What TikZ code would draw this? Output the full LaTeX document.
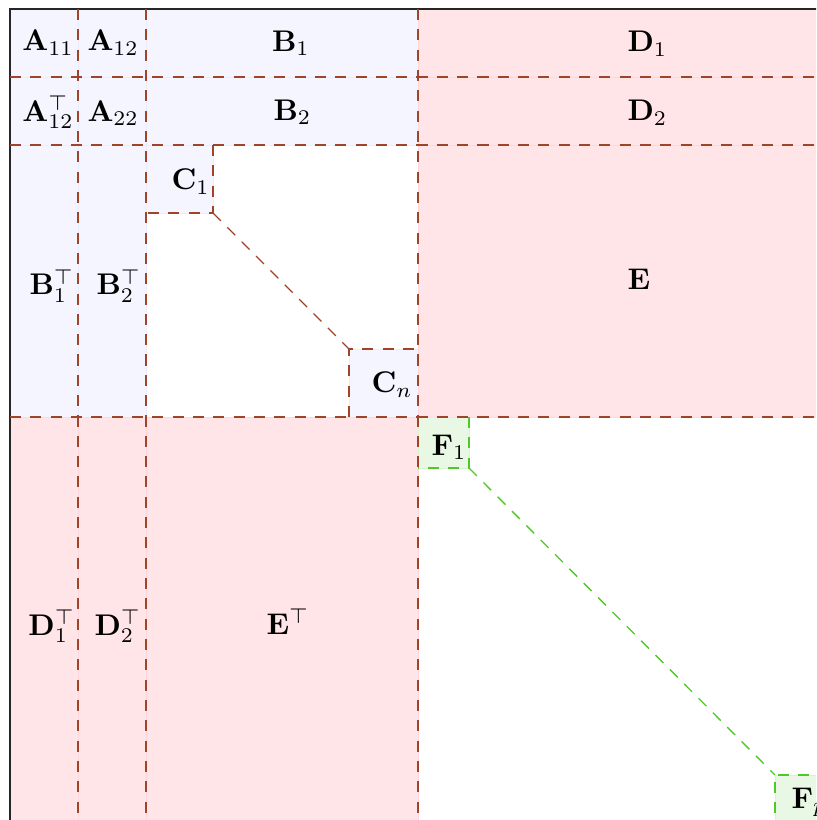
\documentclass[tikz,border=0pt]{standalone}
\usepackage{amsmath}
\definecolor{bfill}{RGB}{244,245,254}
\definecolor{bedge}{RGB}{234,235,252}
\definecolor{pfill}{RGB}{255,228,232}
\definecolor{pedge}{RGB}{253,214,222}
\definecolor{gfill}{RGB}{232,248,228}
\definecolor{gedge}{RGB}{218,242,212}
\definecolor{grid}{RGB}{158,68,40}
\definecolor{gline}{RGB}{80,200,40}
\tikzset{
  bcell/.style={fill=bfill, draw=bedge, line width=0.3pt},
  pcell/.style={fill=pfill, draw=pedge, line width=0.3pt},
  gcell/.style={fill=gfill, draw=gedge, line width=0.3pt},
  gridline/.style={draw=grid, dash pattern=on 3.7pt off 3.1pt, line width=0.45pt},
  greenline/.style={draw=gline, dash pattern=on 3.7pt off 3.1pt, line width=0.45pt},
  lab/.style={inner sep=0pt, outer sep=0pt, anchor=base west},
}
\begin{document}
\begin{tikzpicture}[x=0.3346pt, y=-0.3346pt]
\useasboundingbox (0,0) rectangle (816,820);
\clip (0,0) rectangle (816,820);
% named corner coordinates
\coordinate (tl) at (10,9);
\coordinate (br) at (870,870);
\coordinate (c1c) at (213,213);
\coordinate (cnc) at (349,349);
\coordinate (f1c) at (469,468);
\coordinate (fpc) at (775,775);
% fills
\path[bcell] (10,9) rectangle (78,77);
\path[bcell] (78,9) rectangle (146,77);
\path[bcell] (146,9) rectangle (418,77);
\path[bcell] (10,77) rectangle (78,145);
\path[bcell] (78,77) rectangle (146,145);
\path[bcell] (146,77) rectangle (418,145);
\path[bcell] (10,145) rectangle (78,417);
\path[bcell] (78,145) rectangle (146,417);
\path[bcell] (146,145) rectangle (c1c);
\path[bcell] (cnc) rectangle (418,417);
\path[pcell] (418,9) rectangle (870,77);
\path[pcell] (418,77) rectangle (870,145);
\path[pcell] (418,145) rectangle (870,417);
\path[pcell] (10,417) rectangle (78,870);
\path[pcell] (78,417) rectangle (146,870);
\path[pcell] (146,417) rectangle (418,870);
\path[gcell] (418,417) rectangle (f1c);
\path[gcell] (fpc) rectangle (870,870);
% outer border
\draw[black!85, line width=0.5pt] (tl) rectangle (br);
% grid dashed lines
\draw[gridline] (10,77) -- (870,77);
\draw[gridline] (10,145) -- (870,145);
\draw[gridline] (10,417) -- (870,417);
\draw[gridline] (78,9) -- (78,870);
\draw[gridline] (146,9) -- (146,870);
\draw[gridline] (418,9) -- (418,870);
% C boxes
\draw[gridline] (213,145) -- (c1c) -- (146,213);
\draw[gridline] (349,417) -- (cnc) -- (418,349);
\draw[gridline] (c1c) -- (cnc);
% F boxes
\draw[greenline] (469,417) -- (f1c) -- (418,468);
\draw[greenline] (870,775) -- (fpc) -- (775,870);
\draw[greenline] (f1c) -- (fpc);
% labels
\node[lab] (a11) at (22.5,51) {$\mathbf{A}_{11}$};
\node[lab] (a12) at (87.5,51) {$\mathbf{A}_{12}$};
\node[lab] (b1) at (272,51.5) {$\mathbf{B}_{1}$};
\node[lab] (d1) at (627.5,52) {$\mathbf{D}_{1}$};
\node[lab] (a12t) at (22.5,121.5) {$\mathbf{A}_{12}^{\top}$};
\node[lab] (a22) at (87.5,121.5) {$\mathbf{A}_{22}$};
\node[lab] (b2) at (273.5,120.5) {$\mathbf{B}_{2}$};
\node[lab] (d2) at (627.5,121) {$\mathbf{D}_{2}$};
\node[lab] (c1) at (171.5,190) {$\mathbf{C}_{1}$};
\node[lab] (b1t) at (29.5,295) {$\mathbf{B}_{1}^{\top}$};
\node[lab] (b2t) at (96.5,295) {$\mathbf{B}_{2}^{\top}$};
\node[lab] (e) at (627.5,290) {$\mathbf{E}$};
\node[lab] (cn) at (371.5,393) {$\mathbf{C}_{n}$};
\node[lab] (f1) at (431.5,455) {$\mathbf{F}_{1}$};
\node[lab] (d1t) at (28.5,635) {$\mathbf{D}_{1}^{\top}$};
\node[lab] (d2t) at (94.5,635) {$\mathbf{D}_{2}^{\top}$};
\node[lab] (et) at (266.5,634) {$\mathbf{E}^{\top}$};
\node[lab] (fp) at (791.5,808) {$\mathbf{F}_{p}$};
\end{tikzpicture}
\end{document}
